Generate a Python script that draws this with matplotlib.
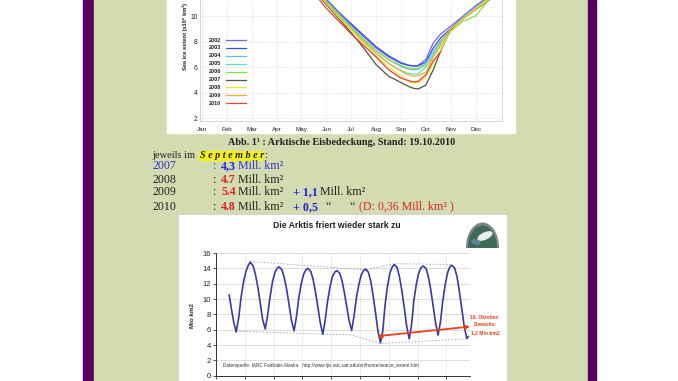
import matplotlib
matplotlib.use('Agg')
import matplotlib.pyplot as plt
from matplotlib.patches import Rectangle, Ellipse

plt.rcParams['font.family'] = ['Liberation Sans', 'DejaVu Sans']

W, H = 678, 381
NAN = float('nan')

# --- top chart: sea ice extent by year (x10^6 km2), month index 0 = Jan ---
months = ['Jan', 'Feb', 'Mar', 'Apr', 'May', 'Jun', 'Jul', 'Aug', 'Sep', 'Oct', 'Nov', 'Dec']
month_pos = [4.5, 5.0, 5.5, 6.0, 6.5, 7.0, 7.5, 8.0, 8.3, 8.5, 8.7,
             9.0, 9.3, 9.6, 10.0, 10.5, 11.0, 11.5, 12.0]
ext_2002 = [12.3, 11.2, 10.2, 9.3, 8.4, 7.5, 6.8, 6.3, 6.15, 6.1, 6.15,
            6.6, 7.9, 8.6, 9.2, 10.0, 10.8, 11.5, 12.1]
ext_2003 = [12.4, 11.3, 10.3, 9.4, 8.5, 7.6, 6.9, 6.35, 6.15, 6.1, 6.1,
            6.4, 7.5, 8.3, 9.0, 9.9, 10.7, 11.4, 12.0]
ext_2004 = [12.2, 11.2, 10.2, 9.2, 8.2, 7.3, 6.6, 6.05, 5.85, 5.8, 5.85,
            6.3, 7.2, 8.1, 8.9, 9.9, 10.7, 11.4, 12.0]
ext_2005 = [12.0, 11.0, 10.0, 9.1, 8.1, 7.1, 6.3, 5.75, 5.5, 5.45, 5.5,
            6.0, 7.0, 8.0, 8.9, 9.9, 10.6, 11.3, 11.9]
ext_2006 = [12.1, 11.1, 10.1, 9.1, 8.2, 7.3, 6.6, 6.15, 5.95, 5.9, 5.95,
            6.1, 6.8, 7.7, 8.8, 9.6, 10.0, 11.2, 11.9]
ext_2007 = [12.0, 10.9, 9.8, 8.7, 7.5, 6.2, 5.3, 4.8, 4.5, 4.35, 4.3,
            4.6, 5.8, 7.3, 8.9, 9.8, 10.5, 11.2, 11.8]
ext_2008 = [12.1, 11.0, 9.9, 8.9, 7.9, 6.9, 6.0, 5.3, 4.9, 4.75, 4.8,
            5.2, 6.3, 7.4, 8.8, 9.8, 10.6, 11.3, 11.9]
ext_2009 = [12.1, 11.1, 10.0, 9.0, 8.0, 7.1, 6.3, 5.7, 5.4, 5.3, 5.35,
            5.6, 6.8, 7.9, 9.0, 9.8, 10.5, 11.2, 11.8]
ext_2010 = [11.8, 10.6, 9.6, 8.6, 7.7, 6.8, 5.8, 5.15, 4.95, 4.85, 4.9,
            5.4, 6.5, 7.2, NAN, NAN, NAN, NAN, NAN]
years = ['2002', '2003', '2004', '2005', '2006', '2007', '2008', '2009', '2010']
year_series = [ext_2002, ext_2003, ext_2004, ext_2005, ext_2006,
               ext_2007, ext_2008, ext_2009, ext_2010]
year_colors = ['#7a5cf0', '#3050e8', '#60b8f8', '#60e0d0', '#88e040',
               '#4c5444', '#e8e440', '#f0b040', '#e84030']

# --- bottom chart: daily extent 2002-2010 (Mio km2) ---
t_years = [2002.46, 2002.54, 2002.62, 2002.70,
           2002.79, 2002.87, 2002.96, 2003.04, 2003.12, 2003.19, 2003.29, 2003.37, 2003.45, 2003.54, 2003.62, 2003.71,
           2003.79, 2003.87, 2003.96, 2004.04, 2004.12, 2004.19, 2004.29, 2004.37, 2004.45, 2004.54, 2004.62, 2004.71,
           2004.79, 2004.87, 2004.96, 2005.04, 2005.12, 2005.19, 2005.29, 2005.37, 2005.45, 2005.54, 2005.62, 2005.71,
           2005.79, 2005.87, 2005.96, 2006.04, 2006.12, 2006.19, 2006.29, 2006.37, 2006.45, 2006.54, 2006.62, 2006.71,
           2006.79, 2006.87, 2006.96, 2007.04, 2007.12, 2007.19, 2007.29, 2007.37, 2007.45, 2007.54, 2007.62, 2007.71,
           2007.79, 2007.87, 2007.96, 2008.04, 2008.12, 2008.19, 2008.29, 2008.37, 2008.45, 2008.54, 2008.62, 2008.71,
           2008.79, 2008.87, 2008.96, 2009.04, 2009.12, 2009.19, 2009.29, 2009.37, 2009.45, 2009.54, 2009.62, 2009.71,
           2009.79, 2009.87, 2009.96, 2010.04, 2010.12, 2010.19, 2010.29, 2010.37, 2010.45, 2010.54, 2010.62, 2010.71,
           2010.76]
extent = [10.5, 8.6, 6.9, 5.7,
          7.6, 10.2, 12.3, 13.6, 14.4, 14.8, 14.3, 13.2, 11.6, 9.4, 7.3, 6.1,
          7.8, 10.1, 12.2, 13.4, 14.0, 14.2, 13.8, 12.8, 11.3, 9.2, 7.2, 5.85,
          7.6, 10.0, 12.0, 13.2, 13.8, 14.0, 13.6, 12.6, 11.0, 8.9, 6.9, 5.4,
          7.2, 9.6, 11.6, 12.9, 13.5, 13.7, 13.4, 12.5, 11.0, 9.0, 7.2, 5.9,
          7.7, 10.0, 11.9, 13.1, 13.7, 13.9, 13.5, 12.4, 10.6, 8.2, 5.9, 4.3,
          5.8, 9.2, 11.8, 13.4, 14.2, 14.5, 14.1, 12.9, 11.2, 8.8, 6.5, 4.8,
          6.6, 9.8, 12.0, 13.4, 14.1, 14.3, 14.0, 13.0, 11.4, 9.1, 7.0, 5.3,
          6.9, 9.6, 11.9, 13.4, 14.2, 14.4, 14.0, 12.9, 11.0, 8.6, 6.4, 4.85,
          5.1]
upper_t = [2003.19, 2007.19, 2008.19, 2010.19]
upper_v = [14.9, 13.8, 14.6, 14.5]
lower_t = [2002.70, 2006.70, 2007.71, 2010.72]
lower_v = [5.8, 5.3, 4.2, 4.8]
arrow_from = (2007.72, 5.2)
arrow_to = (2010.82, 6.4)

fig = plt.figure(figsize=(W / 100, H / 100), dpi=100)
fig.patch.set_facecolor('white')

# page background in pixel coordinates
bg = fig.add_axes([0, 0, 1, 1])
bg.set_xlim(0, W)
bg.set_ylim(H, 0)
bg.axis('off')
bg.add_patch(Rectangle((83, 0), 11, H, color='#5a005e'))
bg.add_patch(Rectangle((94, 0), 494, H, color='#d3dbb0'))
bg.add_patch(Rectangle((588, 0), 8, H, color='#5a005e'))
bg.add_patch(Rectangle((167, -2), 348, 135, color='white'))
bg.add_patch(Rectangle((177.5, 213.5), 329, 170, facecolor='white', edgecolor='#d0d0d0', lw=0.6))


def px_axes(x0, x1, y_top, y_bot):
    return fig.add_axes([x0 / W, 1 - y_bot / H, (x1 - x0) / W, (y_bot - y_top) / H])


# ---------- top chart ----------
ax1 = px_axes(199.5, 501.7, -60.7, 120.9)
ax1.patch.set_alpha(0)
for ys, c in zip(year_series, year_colors):
    ax1.plot(month_pos, ys, color=c, lw=0.9)
ax1.set_xlim(-0.1, 12.05)
ax1.set_ylim(1.8, 16)
ax1.set_xticks(range(12))
ax1.set_xticklabels(months, fontsize=4.5, color='#222222')
ax1.set_yticks([2, 4, 6, 8, 10])
ax1.set_yticklabels(['2', '4', '6', '8', '10'], fontsize=4.8, color='#222222')
ax1.tick_params(axis='x', length=0, pad=4.5)
ax1.tick_params(axis='y', length=0, pad=1.5)
ax1.grid(color='#d0d0d0', lw=0.5, ls=(0, (1, 1.5)))
for s in ax1.spines.values():
    s.set_color('#d0d0d0')
    s.set_linewidth(0.6)

for i, (yr, c) in enumerate(zip(years, year_colors)):
    y = 40 + i * 7.9
    bg.text(209, y, yr, fontsize=4, weight='bold', va='center', color='#222222')
    bg.plot([226, 246], [y, y], color=c, lw=0.9)
bg.text(185, 70, 'Sea ice extent (x10⁶ km²)', rotation=90, ha='center', va='bottom',
        fontsize=4.1, weight='bold', color='#222222')

# ---------- text block ----------
serif = ['Liberation Serif', 'DejaVu Serif']
dark = '#222222'
blue = '#2020e0'
red = '#e02020'


def t(x, y, s, color=dark, weight='normal', style='normal', size=8.6, ha='left'):
    bg.text(x, y, s, color=color, fontweight=weight, fontstyle=style, fontsize=size,
            family=serif, ha=ha, va='center')


t(341.7, 142.7, 'Abb. 1¹ : Arktische Eisbedeckung, Stand: 19.10.2010', weight='bold', size=7.3, ha='center')
t(152.7, 155, 'jeweils im', size=7.5)
bg.add_patch(Rectangle((199, 150.5), 64, 9, color='#f4f020'))
t(200, 155, 'S e p t e m b e r', weight='bold', style='italic', size=7.3)
t(264, 155, ':', size=7.5)

t(152.7, 165.7, '2007', color='#3030d0')
t(212.7, 165.7, ':', color='#3030d0')
t(221, 165.7, '4,3', color=blue, weight='bold')
t(238.3, 165.7, 'Mill. km²', color='#3030d0')

t(152.7, 180, '2008')
t(212.7, 180, ':')
t(221, 180, '4.7', color=red, weight='bold')
t(238.3, 180, 'Mill. km²')

t(152.7, 192.3, '2009')
t(212.7, 192.3, ':')
t(221, 192.3, '5.4', color=red, weight='bold')
t(238.3, 192.3, 'Mill. km²')
t(292.7, 192.3, '+ 1,1', color=blue, weight='bold')
t(320, 192.3, 'Mill. km²')

t(152.7, 206.7, '2010')
t(212.7, 206.7, ':')
t(221, 206.7, '4.8', color=red, weight='bold')
t(238.3, 206.7, 'Mill. km²')
t(292.7, 206.7, '+ 0,5', color=blue, weight='bold')
t(325, 206.7, '“')
t(349.3, 206.7, '“')
t(359.3, 206.7, '(D: 0,36 Mill. km² )', color=red)

# ---------- bottom chart ----------
ax2 = px_axes(216, 470, 253, 375.7)
ax2.patch.set_alpha(0)
ax2.plot(upper_t, upper_v, color='#a8a8a8', lw=0.6, ls=(0, (2, 2)))
ax2.plot(lower_t, lower_v, color='#a8a8a8', lw=0.6, ls=(0, (2, 2)))
ax2.plot(t_years, extent, color='#3a3aa6', lw=1.2)
ax2.set_xlim(2002.0, 2010.82)
ax2.set_ylim(0, 16)
ax2.set_xticks(range(2002, 2011))
ax2.set_xticklabels([])
ax2.set_yticks(range(0, 17, 2))
ax2.set_yticklabels([str(v) for v in range(0, 17, 2)], fontsize=5.5, color='#222222')
ax2.tick_params(axis='both', direction='out', length=2.2, width=0.6, pad=1.5, color='#333333')
ax2.yaxis.grid(True, color='#cfcfcf', lw=0.5, ls='-')
ax2.xaxis.grid(True, color='#c0c0c0', lw=0.5, ls=(0, (1, 1.5)))
ax2.set_axisbelow(True)
for k in ['top', 'right']:
    ax2.spines[k].set_visible(False)
for k in ['left', 'bottom']:
    ax2.spines[k].set_color('#333333')
    ax2.spines[k].set_linewidth(0.7)

ax2.annotate('', xy=arrow_to, xytext=arrow_from, annotation_clip=False,
             arrowprops=dict(arrowstyle='-|>', color='#e8401c', lw=1.3,
                             mutation_scale=6, shrinkA=0, shrinkB=0))
ax2.plot([arrow_from[0]], [arrow_from[1]], 'o', ms=2.3, color='#e8401c', clip_on=False)

bg.text(336.7, 225, 'Die Arktis friert wieder stark zu', ha='center', va='center',
        fontsize=6.2, weight='bold', color='#222222')
bg.text(193, 315, 'Mio km2', rotation=90, ha='center', va='center', fontsize=4.5,
        weight='bold', color='#222222')
bg.text(223.3, 365, 'Datenquelle: IARC Fairbaks Alaska   http://www.ijis.iarc.uaf.edu/en/home/seaice_extent.htm',
        fontsize=3.4, va='center', color='#333333')
bg.text(485, 325, '16. Oktober:\nZuwachs:\n1,2 Mio km2', ha='center', va='center',
        fontsize=3.6, color='#e8401c', weight='bold', linespacing=1.6)

# small globe logo: dome shape clipped at its base
logo_clip = Rectangle((460, 215), 45, 32.5, transform=bg.transData)
for w, h, col in [(33, 50, '#7c868a'), (29, 44, '#3f6a58')]:
    dome = Ellipse((482.5, 247.5), w, h, facecolor=col, edgecolor='none')
    bg.add_patch(dome)
    dome.set_clip_path(logo_clip)
swirl = Ellipse((485, 236), 15, 6, angle=-25, color='#e8eef0')
bg.add_patch(swirl)
swirl.set_clip_path(logo_clip)
bg.add_patch(Ellipse((476, 242), 8, 4, angle=15, color='#5a8a9a'))

fig.savefig('out.png', dpi=100)
